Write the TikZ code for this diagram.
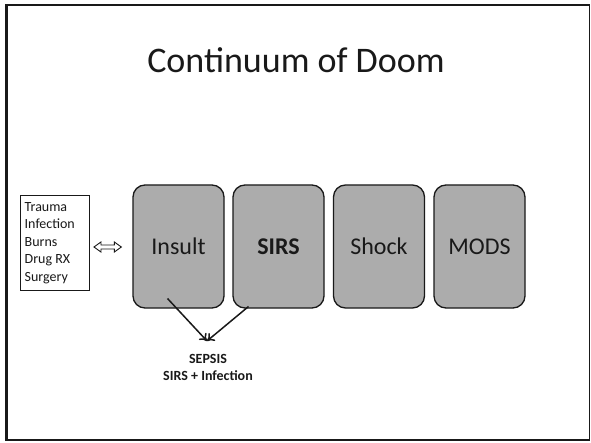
\documentclass[tikz,border=0pt]{standalone}
\usepackage{fontspec}
\setmainfont{Carlito}
\usetikzlibrary{arrows.meta,calc}
\definecolor{boxgray}{RGB}{172,172,172}
\definecolor{ink}{RGB}{25,25,25}
\tikzset{
  stage/.style={draw=ink, line width=1.3pt, fill=boxgray, rounded corners=12pt,
    minimum width=91pt, minimum height=123pt, inner sep=0pt, text=ink,
    font=\fontsize{24}{28}\selectfont},
  causebox/.style={draw=ink, line width=0.9pt, fill=white, inner sep=0pt,
    minimum width=69pt, minimum height=95pt, text=ink},
  link/.style={draw=ink, line width=1.5pt, -{To[length=7pt,width=10pt]}},
  hollowarrow/.style={draw=ink, line width=0.9pt, fill=white, line join=miter},
}
\begin{document}
\begin{tikzpicture}[x=1pt,y=-1pt]
\useasboundingbox (0,0) rectangle (591,443);
\fill[white] (0,0) rectangle (591,443);
\draw[ink, line width=1.2pt] (6,5) rectangle (589.5,440);
\draw[ink, line width=1.2pt] (7,5) -- (7,440);
\node[text=ink, font=\fontsize{36}{40}\selectfont] (title) at (296,60) {Continuum of Doom};
\node[causebox] (causes) at (55,242.5) {};
\node[anchor=north west, text=ink, align=left, inner sep=0pt,
  font=\fontsize{14}{17.6}\selectfont] (causetext) at (24.5,202) {Trauma\\Infection\\Burns\\Drug RX\\Surgery};
\node[stage] (insult) at (178.5,246.5) {Insult};
\node[stage] (sirs) at (278.5,246.5) {\textbf{SIRS}};
\node[stage] (shock) at (379,246.5) {Shock};
\node[stage] (mods) at (479.5,246.5) {MODS};
\coordinate (da) at ($(causes.east)+(4,4.5)$);
\coordinate (db) at ($(insult.west |- da)+(-11,0)$);
\draw[hollowarrow] (da) -- ++(7,-5) -- ++(0,3) -- ($(db)+(-7,-2)$) -- ++(0,-3) -- (db)
  -- ++(-7,5) -- ++(0,-3) -- ($(da)+(7,2)$) -- ++(0,3) -- cycle;
\coordinate (meet) at (207,341);
\draw[link] (insult.center) ++(-11,52) coordinate (ia) (ia) -- (meet);
\draw[link] (sirs.center) ++(-30,60) coordinate (sa) (sa) -- (meet);
\node[text=ink, font=\bfseries\fontsize{14}{17}\selectfont, align=center, anchor=north] (sepsis) at (208,351) {SEPSIS\\SIRS + Infection};
\end{tikzpicture}
\end{document}
